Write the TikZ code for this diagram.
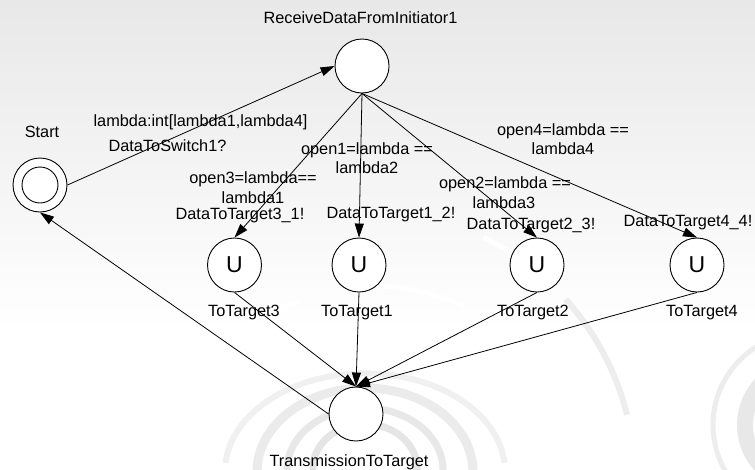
\documentclass[tikz,border=0pt]{standalone}
\usepackage{fontspec}
\setmainfont{Liberation Sans}
\usetikzlibrary{arrows.meta}

\tikzset{
  state/.style={circle, draw, fill=white, minimum size=54pt, inner sep=0pt, line width=0.9pt},
  innerring/.style={circle, draw, minimum size=36pt, inner sep=0pt, line width=0.9pt},
  trans/.style={line width=0.8pt, -{Triangle[length=14pt,width=9pt]}},
  txt/.style={anchor=base, inner sep=0pt, font=\fontsize{16.3}{19.5}\selectfont},
  ulabel/.style={font=\fontsize{23}{26}\selectfont, inner sep=0pt},
  ring/.style={line width=6pt, black!8},
  whitering/.style={line width=5pt, white}
}

\begin{document}
\begin{tikzpicture}[x=1pt, y=-1pt]
\useasboundingbox (0,0) rectangle (755,469);

% backdrop: soft grey fading to white, with faint concentric rings
\fill[white] (0,0) rectangle (755,469);
\fill[top color=black!9, bottom color=white] (0,0) rectangle (755,330);
\begin{scope}
  \clip (0,0) rectangle (755,469);
  % rings round the lower middle
  \draw[ring, black!10, line width=7pt] (365,468) ellipse[x radius=52, y radius=44];
  \draw[ring, black!9, line width=7pt] (365,470) ellipse[x radius=78, y radius=62];
  \draw[ring, black!8, line width=9pt] (365,472) ellipse[x radius=108, y radius=84];
  \draw[ring, black!6] (365,475) ++(-5:140) arc[start angle=-5, end angle=-175, x radius=140, y radius=98];
  \draw[whitering] (365,480) ++(-110:190) arc[start angle=-110, end angle=-170, x radius=190, y radius=150];
  \draw[whitering] (365,480) ++(-60:200) arc[start angle=-60, end angle=-95, x radius=200, y radius=160];
  \draw[ring, black!7] (365,480) ++(-14:270) arc[start angle=-14, end angle=-42, radius=270];
  \draw[whitering] (365,480) ++(-46:270) arc[start angle=-46, end angle=-64, radius=270];
  % rings at the right edge
  \draw[ring, black!9, line width=16pt] (805,425) circle[radius=60];
  \draw[ring, black!7, line width=5pt] (805,425) ++(-95:92) arc[start angle=-95, end angle=-255, radius=92];
  \draw[whitering] (805,425) ++(-90:112) arc[start angle=-90, end angle=-200, radius=112];
\end{scope}

% locations
\node[state] (start) at (40,185) {};
\node[innerring] (startin) at (40,185) {};
\node[state] (recv) at (362,66) {};
\node[state] (t3) at (234.5,265) {};
\node[state] (t1) at (359,265) {};
\node[state] (t2) at (537,265) {};
\node[state] (t4) at (697,265) {};
\node[state] (tx) at (356,414) {};

\node[ulabel] (u3) at (t3) {U};
\node[ulabel] (u1) at (t1) {U};
\node[ulabel] (u2) at (t2) {U};
\node[ulabel] (u4) at (t4) {U};

% location names
\node[txt] (nstart) at (42,137) {Start};
\node[txt] (nrecv) at (360.5,23.3) {ReceiveDataFromInitiator1};
\node[txt] (nt3) at (244,316) {ToTarget3};
\node[txt] (nt1) at (357,316) {ToTarget1};
\node[txt] (nt2) at (533,316) {ToTarget2};
\node[txt] (nt4) at (702,316) {ToTarget4};
\node[txt] (ntx) at (349,466) {TransmissionToTarget};

% transitions
\draw[trans] (start.east) -- (recv.west);
\draw[trans] (recv.south) -- (t3.north);
\draw[trans] (recv.south) -- (t1.north);
\draw[trans] (recv.south) -- (t2.north);
\draw[trans] (recv.south) -- (t4.north);
\draw[trans] (t3.south) -- (tx.north);
\draw[trans] (t1.south) -- (tx.north);
\draw[trans] (t2.south) -- (tx.north);
\draw[trans] (t4.south) -- (tx.north);
\draw[trans] (tx.west) -- (start.south);

% select / guard / sync labels
\node[txt] (sel) at (200.5,126) {lambda:int[lambda1,lambda4]};
\node[txt] (sync0) at (167.5,151) {DataToSwitch1?};

\node[txt] (g3a) at (253,183) {open3=lambda==};
\node[txt] (g3b) at (253,203) {lambda1};
\node[txt] (s3) at (240,219) {DataToTarget3\_1!};

\node[txt] (g1a) at (367,154) {open1=lambda ==};
\node[txt] (g1b) at (367,173) {lambda2};
\node[txt] (s1) at (391,218) {DataToTarget1\_2!};

\node[txt] (g2a) at (505,188) {open2=lambda ==};
\node[txt] (g2b) at (504,208) {lambda3};
\node[txt] (s2) at (531,229) {DataToTarget2\_3!};

\node[txt] (g4a) at (563,135) {open4=lambda ==};
\node[txt] (g4b) at (563,154) {lambda4};
\node[txt] (s4) at (688,226) {DataToTarget4\_4!};
\end{tikzpicture}
\end{document}
